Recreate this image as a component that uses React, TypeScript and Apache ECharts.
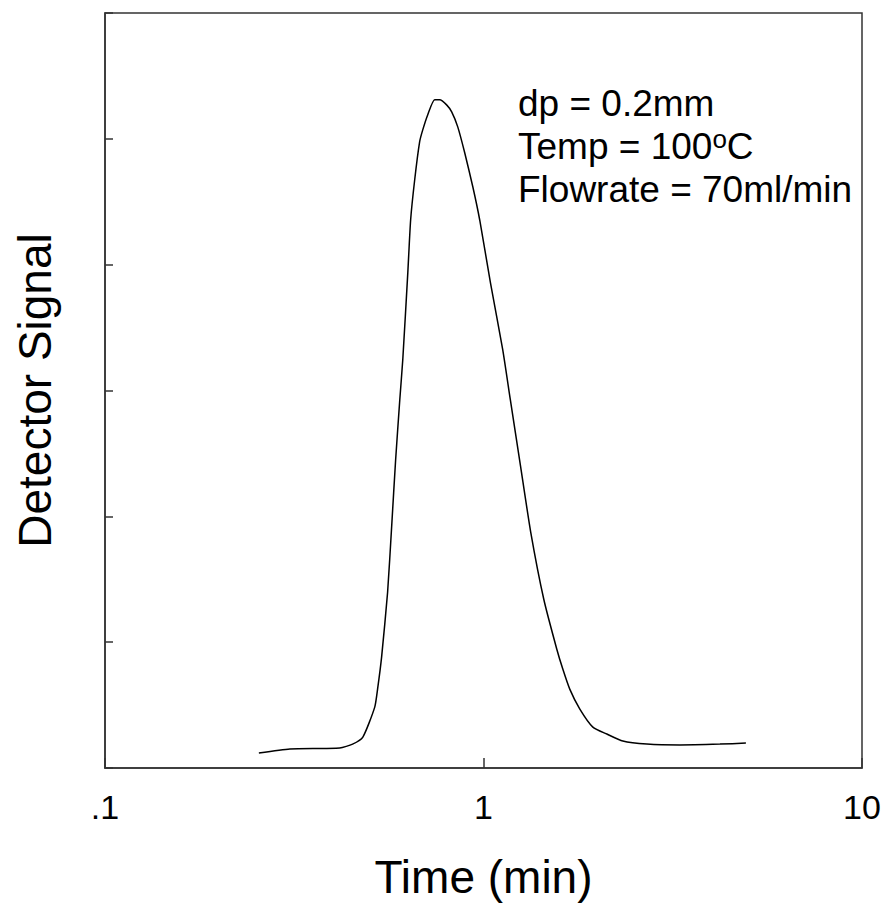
import React, { useEffect, useRef } from "react";
import * as echarts from "echarts";

const timeMin = [
  0.255, 0.308, 0.417, 0.451, 0.48, 0.516, 0.525, 0.538, 0.558, 0.572, 0.586,
  0.601, 0.612, 0.631, 0.642, 0.658, 0.678, 0.691, 0.712, 0.743, 0.766, 0.799,
  0.824, 0.855, 0.892, 0.937, 0.977, 1.043, 1.124, 1.177, 1.253, 1.333, 1.443,
  1.562, 1.62, 1.69, 1.797, 1.945, 2.118, 2.334, 2.702, 3.303, 4.214, 4.935,
];
const signal = [
  0.119, 0.151, 0.159, 0.19, 0.246, 0.484, 0.627, 0.881, 1.397, 1.921, 2.452,
  2.929, 3.246, 3.937, 4.357, 4.675, 4.976, 5.071, 5.19, 5.31, 5.31, 5.27,
  5.214, 5.095, 4.889, 4.619, 4.357, 3.857, 3.325, 2.929, 2.397, 1.873, 1.341,
  0.944, 0.786, 0.627, 0.468, 0.325, 0.27, 0.214, 0.19, 0.183, 0.19, 0.198,
];
const annotationLines = ["dp = 0.2mm", "Temp = 100", "Flowrate = 70ml/min"];

const FONT = "'Liberation Sans', Arial, sans-serif";

export default function App() {
  const ref = useRef<HTMLDivElement>(null);
  useEffect(() => {
    if (!ref.current) return;
    const chart = echarts.init(ref.current, null, { renderer: "svg" });
    const data = timeMin.map((t, i) => [t, signal[i]]);
    chart.setOption({
      animation: false,
      backgroundColor: "#ffffff",
      grid: {
        left: 105,
        right: 27,
        top: 13,
        bottom: 136,
        show: true,
        borderColor: "#333",
        borderWidth: 1.5,
        backgroundColor: "transparent",
      },
      xAxis: {
        type: "log",
        logBase: 10,
        min: 0.1,
        max: 10,
        name: "Time (min)",
        nameLocation: "middle",
        nameGap: 86,
        nameTextStyle: { fontSize: 46, color: "#000", fontFamily: FONT },
        axisLine: { show: true, lineStyle: { color: "#333", width: 1.5 } },
        axisTick: { show: true, inside: true, length: 10, lineStyle: { color: "#333", width: 1.5 } },
        minorTick: { show: false },
        splitLine: { show: false },
        axisLabel: {
          margin: 22,
          fontSize: 34,
          color: "#000",
          fontFamily: FONT,
          formatter: (v: number) => (v < 0.5 ? ".1" : String(Math.round(v))),
        },
      },
      yAxis: {
        type: "value",
        min: 0,
        max: 6,
        interval: 1,
        name: "Detector Signal",
        nameLocation: "middle",
        nameGap: 47,
        nameTextStyle: { fontSize: 46, color: "#000", fontFamily: FONT },
        axisLine: { show: true, lineStyle: { color: "#333", width: 1.5 } },
        axisTick: { show: true, inside: true, length: 8, lineStyle: { color: "#333", width: 1.5 } },
        axisLabel: { show: false },
        splitLine: { show: false },
      },
      series: [
        {
          type: "line",
          data,
          smooth: 0.2,
          symbol: "none",
          lineStyle: { color: "#000", width: 1.5 },
        },
      ],
      graphic: [
        {
          type: "text",
          left: 518,
          top: 85,
          style: {
            text:
              "{a|" + annotationLines[0] + "}\n{a|" + annotationLines[1] + "}{s|o}{a|C}\n{a|" + annotationLines[2] + "}",
            rich: {
              a: { fontSize: 37, lineHeight: 43, fontFamily: FONT, fill: "#000" },
              s: { fontSize: 26, lineHeight: 26, fontFamily: FONT, fill: "#000", padding: [0, 0, 16, 0] },
            },
            fill: "#000",
          },
        },
      ],
    });
    return () => chart.dispose();
  }, []);
  return (
    <div
      ref={ref}
      style={{ position: "fixed", left: 0, top: 0, width: 889, height: 905, background: "#fff" }}
    />
  );
}
